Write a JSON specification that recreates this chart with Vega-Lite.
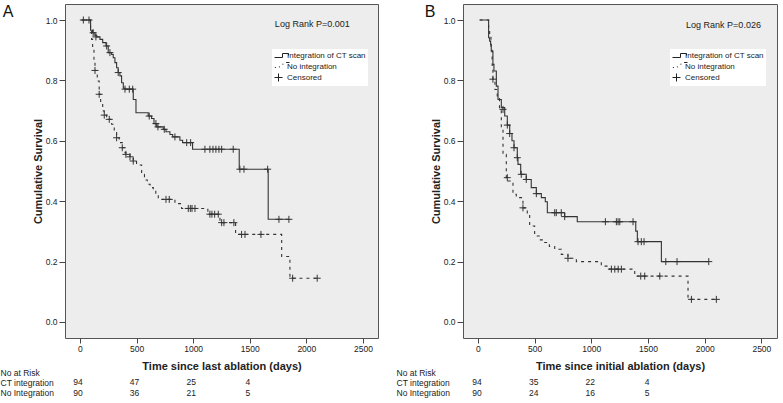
{
  "$schema": "https://vega.github.io/schema/vega-lite/v6.json",
  "padding": {"left": 0, "top": 3, "right": 0, "bottom": 3},
  "background": "white",
  "config": {
    "font": "Liberation Sans",
    "view": {"stroke": "#555", "fill": "#ededed", "strokeWidth": 1},
    "axis": {"grid": false, "domain": false, "tickColor": "#444", "labelColor": "#222", "labelFontSize": 8.5, "titleFontSize": 11, "titleFontWeight": "bold", "titleColor": "#222"},
    "legend": {"labelFont": "Liberation Sans"}
  },
  "datasets": {
    "curvesA": [
      {"group": "Integration of CT scan", "t": 15, "s": 1.0}, {"group": "Integration of CT scan", "t": 94, "s": 0.966}, {"group": "Integration of CT scan", "t": 112, "s": 0.958}, {"group": "Integration of CT scan", "t": 132, "s": 0.949}, {"group": "Integration of CT scan", "t": 148, "s": 0.944}, {"group": "Integration of CT scan", "t": 177, "s": 0.936}, {"group": "Integration of CT scan", "t": 201, "s": 0.925}, {"group": "Integration of CT scan", "t": 230, "s": 0.914}, {"group": "Integration of CT scan", "t": 250, "s": 0.892}, {"group": "Integration of CT scan", "t": 280, "s": 0.886}, {"group": "Integration of CT scan", "t": 294, "s": 0.875}, {"group": "Integration of CT scan", "t": 309, "s": 0.859}, {"group": "Integration of CT scan", "t": 324, "s": 0.842}, {"group": "Integration of CT scan", "t": 338, "s": 0.826}, {"group": "Integration of CT scan", "t": 353, "s": 0.815}, {"group": "Integration of CT scan", "t": 368, "s": 0.792}, {"group": "Integration of CT scan", "t": 383, "s": 0.774}, {"group": "Integration of CT scan", "t": 398, "s": 0.771}, {"group": "Integration of CT scan", "t": 471, "s": 0.737}, {"group": "Integration of CT scan", "t": 495, "s": 0.693}, {"group": "Integration of CT scan", "t": 603, "s": 0.682}, {"group": "Integration of CT scan", "t": 633, "s": 0.674}, {"group": "Integration of CT scan", "t": 654, "s": 0.657}, {"group": "Integration of CT scan", "t": 678, "s": 0.646}, {"group": "Integration of CT scan", "t": 736, "s": 0.638}, {"group": "Integration of CT scan", "t": 760, "s": 0.63}, {"group": "Integration of CT scan", "t": 795, "s": 0.621}, {"group": "Integration of CT scan", "t": 819, "s": 0.613}, {"group": "Integration of CT scan", "t": 883, "s": 0.602}, {"group": "Integration of CT scan", "t": 907, "s": 0.594}, {"group": "Integration of CT scan", "t": 995, "s": 0.572}, {"group": "Integration of CT scan", "t": 1407, "s": 0.506}, {"group": "Integration of CT scan", "t": 1663, "s": 0.34}, {"group": "Integration of CT scan", "t": 1849, "s": 0.34},
      {"group": "No integration", "t": 15, "s": 1.0}, {"group": "No integration", "t": 94, "s": 0.97}, {"group": "No integration", "t": 103, "s": 0.936}, {"group": "No integration", "t": 112, "s": 0.908}, {"group": "No integration", "t": 124, "s": 0.864}, {"group": "No integration", "t": 133, "s": 0.833}, {"group": "No integration", "t": 153, "s": 0.798}, {"group": "No integration", "t": 170, "s": 0.754}, {"group": "No integration", "t": 183, "s": 0.726}, {"group": "No integration", "t": 201, "s": 0.699}, {"group": "No integration", "t": 215, "s": 0.685}, {"group": "No integration", "t": 236, "s": 0.679}, {"group": "No integration", "t": 259, "s": 0.671}, {"group": "No integration", "t": 280, "s": 0.655}, {"group": "No integration", "t": 303, "s": 0.632}, {"group": "No integration", "t": 324, "s": 0.61}, {"group": "No integration", "t": 347, "s": 0.594}, {"group": "No integration", "t": 374, "s": 0.577}, {"group": "No integration", "t": 398, "s": 0.561}, {"group": "No integration", "t": 406, "s": 0.555}, {"group": "No integration", "t": 442, "s": 0.547}, {"group": "No integration", "t": 471, "s": 0.533}, {"group": "No integration", "t": 500, "s": 0.52}, {"group": "No integration", "t": 545, "s": 0.489}, {"group": "No integration", "t": 570, "s": 0.47}, {"group": "No integration", "t": 595, "s": 0.456}, {"group": "No integration", "t": 620, "s": 0.445}, {"group": "No integration", "t": 648, "s": 0.436}, {"group": "No integration", "t": 670, "s": 0.42}, {"group": "No integration", "t": 692, "s": 0.406}, {"group": "No integration", "t": 839, "s": 0.392}, {"group": "No integration", "t": 898, "s": 0.376}, {"group": "No integration", "t": 1130, "s": 0.357}, {"group": "No integration", "t": 1237, "s": 0.329}, {"group": "No integration", "t": 1375, "s": 0.29}, {"group": "No integration", "t": 1782, "s": 0.217}, {"group": "No integration", "t": 1855, "s": 0.145}, {"group": "No integration", "t": 2096, "s": 0.145}
    ],
    "censA": [
      {"t": 30, "s": 1.0}, {"t": 80, "s": 1.0}, {"t": 117, "s": 0.958}, {"t": 141, "s": 0.944}, {"t": 236, "s": 0.914}, {"t": 265, "s": 0.892}, {"t": 338, "s": 0.826}, {"t": 398, "s": 0.771}, {"t": 436, "s": 0.771}, {"t": 466, "s": 0.771}, {"t": 612, "s": 0.682}, {"t": 671, "s": 0.657}, {"t": 689, "s": 0.646}, {"t": 745, "s": 0.638}, {"t": 839, "s": 0.613}, {"t": 943, "s": 0.594}, {"t": 978, "s": 0.594}, {"t": 1104, "s": 0.572}, {"t": 1148, "s": 0.572}, {"t": 1175, "s": 0.572}, {"t": 1201, "s": 0.572}, {"t": 1228, "s": 0.572}, {"t": 1252, "s": 0.572}, {"t": 1354, "s": 0.572}, {"t": 1413, "s": 0.506}, {"t": 1449, "s": 0.506}, {"t": 1658, "s": 0.506}, {"t": 1758, "s": 0.34}, {"t": 1846, "s": 0.34},
      {"t": 133, "s": 0.833}, {"t": 170, "s": 0.754}, {"t": 215, "s": 0.685}, {"t": 259, "s": 0.671}, {"t": 324, "s": 0.61}, {"t": 374, "s": 0.577}, {"t": 406, "s": 0.555}, {"t": 442, "s": 0.547}, {"t": 471, "s": 0.533}, {"t": 760, "s": 0.406}, {"t": 789, "s": 0.406}, {"t": 957, "s": 0.376}, {"t": 975, "s": 0.376}, {"t": 990, "s": 0.376}, {"t": 1016, "s": 0.376}, {"t": 1148, "s": 0.357}, {"t": 1166, "s": 0.357}, {"t": 1190, "s": 0.357}, {"t": 1222, "s": 0.357}, {"t": 1252, "s": 0.329}, {"t": 1272, "s": 0.329}, {"t": 1360, "s": 0.329}, {"t": 1428, "s": 0.29}, {"t": 1458, "s": 0.29}, {"t": 1599, "s": 0.29}, {"t": 1879, "s": 0.145}, {"t": 2096, "s": 0.145}
    ],
    "curvesB": [
      {"group": "Integration of CT scan", "t": 15, "s": 1.0}, {"group": "Integration of CT scan", "t": 94, "s": 0.941}, {"group": "Integration of CT scan", "t": 103, "s": 0.93}, {"group": "Integration of CT scan", "t": 112, "s": 0.919}, {"group": "Integration of CT scan", "t": 117, "s": 0.897}, {"group": "Integration of CT scan", "t": 132, "s": 0.853}, {"group": "Integration of CT scan", "t": 141, "s": 0.831}, {"group": "Integration of CT scan", "t": 162, "s": 0.781}, {"group": "Integration of CT scan", "t": 177, "s": 0.737}, {"group": "Integration of CT scan", "t": 206, "s": 0.71}, {"group": "Integration of CT scan", "t": 236, "s": 0.682}, {"group": "Integration of CT scan", "t": 259, "s": 0.652}, {"group": "Integration of CT scan", "t": 280, "s": 0.624}, {"group": "Integration of CT scan", "t": 300, "s": 0.6}, {"group": "Integration of CT scan", "t": 318, "s": 0.577}, {"group": "Integration of CT scan", "t": 347, "s": 0.544}, {"group": "Integration of CT scan", "t": 353, "s": 0.522}, {"group": "Integration of CT scan", "t": 377, "s": 0.489}, {"group": "Integration of CT scan", "t": 426, "s": 0.472}, {"group": "Integration of CT scan", "t": 470, "s": 0.445}, {"group": "Integration of CT scan", "t": 515, "s": 0.425}, {"group": "Integration of CT scan", "t": 559, "s": 0.412}, {"group": "Integration of CT scan", "t": 594, "s": 0.398}, {"group": "Integration of CT scan", "t": 612, "s": 0.362}, {"group": "Integration of CT scan", "t": 765, "s": 0.349}, {"group": "Integration of CT scan", "t": 876, "s": 0.332}, {"group": "Integration of CT scan", "t": 1392, "s": 0.301}, {"group": "Integration of CT scan", "t": 1406, "s": 0.266}, {"group": "Integration of CT scan", "t": 1618, "s": 0.2}, {"group": "Integration of CT scan", "t": 2036, "s": 0.2},
      {"group": "No integration", "t": 15, "s": 1.0}, {"group": "No integration", "t": 94, "s": 0.97}, {"group": "No integration", "t": 103, "s": 0.953}, {"group": "No integration", "t": 115, "s": 0.9}, {"group": "No integration", "t": 125, "s": 0.85}, {"group": "No integration", "t": 132, "s": 0.804}, {"group": "No integration", "t": 150, "s": 0.77}, {"group": "No integration", "t": 170, "s": 0.74}, {"group": "No integration", "t": 190, "s": 0.71}, {"group": "No integration", "t": 206, "s": 0.638}, {"group": "No integration", "t": 221, "s": 0.555}, {"group": "No integration", "t": 250, "s": 0.478}, {"group": "No integration", "t": 265, "s": 0.467}, {"group": "No integration", "t": 309, "s": 0.423}, {"group": "No integration", "t": 338, "s": 0.412}, {"group": "No integration", "t": 397, "s": 0.378}, {"group": "No integration", "t": 435, "s": 0.357}, {"group": "No integration", "t": 456, "s": 0.318}, {"group": "No integration", "t": 500, "s": 0.285}, {"group": "No integration", "t": 540, "s": 0.272}, {"group": "No integration", "t": 589, "s": 0.263}, {"group": "No integration", "t": 630, "s": 0.25}, {"group": "No integration", "t": 677, "s": 0.241}, {"group": "No integration", "t": 735, "s": 0.224}, {"group": "No integration", "t": 794, "s": 0.211}, {"group": "No integration", "t": 868, "s": 0.2}, {"group": "No integration", "t": 1088, "s": 0.185}, {"group": "No integration", "t": 1160, "s": 0.175}, {"group": "No integration", "t": 1383, "s": 0.152}, {"group": "No integration", "t": 1853, "s": 0.075}, {"group": "No integration", "t": 2103, "s": 0.075}
    ],
    "censB": [
      {"t": 221, "s": 0.704}, {"t": 259, "s": 0.652}, {"t": 280, "s": 0.624}, {"t": 318, "s": 0.577}, {"t": 347, "s": 0.544}, {"t": 382, "s": 0.489}, {"t": 426, "s": 0.472}, {"t": 515, "s": 0.425}, {"t": 677, "s": 0.362}, {"t": 691, "s": 0.362}, {"t": 735, "s": 0.362}, {"t": 765, "s": 0.349}, {"t": 1124, "s": 0.332}, {"t": 1221, "s": 0.332}, {"t": 1236, "s": 0.332}, {"t": 1251, "s": 0.332}, {"t": 1368, "s": 0.332}, {"t": 1412, "s": 0.266}, {"t": 1441, "s": 0.266}, {"t": 1465, "s": 0.266}, {"t": 1657, "s": 0.2}, {"t": 1756, "s": 0.2}, {"t": 2036, "s": 0.2},
      {"t": 132, "s": 0.804}, {"t": 259, "s": 0.478}, {"t": 397, "s": 0.378}, {"t": 794, "s": 0.211}, {"t": 1177, "s": 0.175}, {"t": 1207, "s": 0.175}, {"t": 1237, "s": 0.175}, {"t": 1265, "s": 0.175}, {"t": 1436, "s": 0.152}, {"t": 1471, "s": 0.152}, {"t": 1604, "s": 0.152}, {"t": 1883, "s": 0.075}, {"t": 2103, "s": 0.075}
    ],
    "riskA": [
      {"row": "CT integration", "t": 0, "n": 94}, {"row": "CT integration", "t": 500, "n": 47}, {"row": "CT integration", "t": 1000, "n": 25}, {"row": "CT integration", "t": 1500, "n": 4},
      {"row": "No Integration", "t": 0, "n": 90}, {"row": "No Integration", "t": 500, "n": 36}, {"row": "No Integration", "t": 1000, "n": 21}, {"row": "No Integration", "t": 1500, "n": 5}
    ],
    "riskB": [
      {"row": "CT integration", "t": 0, "n": 94}, {"row": "CT integration", "t": 500, "n": 35}, {"row": "CT integration", "t": 1000, "n": 22}, {"row": "CT integration", "t": 1500, "n": 4},
      {"row": "No Integration", "t": 0, "n": 90}, {"row": "No Integration", "t": 500, "n": 24}, {"row": "No Integration", "t": 1000, "n": 16}, {"row": "No Integration", "t": 1500, "n": 5}
    ]
  },
  "spacing": 17,
  "resolve": {"scale": {"shape": "independent", "strokeDash": "independent", "x": "independent", "y": "independent"}, "legend": {"shape": "independent"}},
  "hconcat": [
    {
      "spacing": -4,
      "vconcat": [
        {
          "width": 313, "height": 334,
          "title": {"text": "A", "orient": "left", "anchor": "end", "angle": 0, "align": "right", "baseline": "top", "fontSize": 16, "fontWeight": "normal", "color": "#111", "offset": 8},
          "layer": [
            {
              "data": {"name": "curvesA"},
              "mark": {"type": "line", "interpolate": "step-after", "color": "#333", "strokeWidth": 1.1},
              "encoding": {
                "x": {"field": "t", "type": "quantitative", "scale": {"domain": [-132, 2633], "nice": false, "zero": false}, "axis": {"values": [0, 500, 1000, 1500, 2000, 2500], "format": "d", "tickSize": 5, "labelPadding": 1, "title": "Time since last ablation (days)", "titlePadding": 8}},
                "y": {"field": "s", "type": "quantitative", "scale": {"domain": [-0.053, 1.053], "nice": false, "zero": false}, "axis": {"values": [0, 0.2, 0.4, 0.6, 0.8, 1.0], "format": ".1f", "tickSize": 6, "labelPadding": 2, "title": "Cumulative Survival", "titlePadding": 2}},
                "strokeDash": {"field": "group", "type": "nominal", "scale": {"domain": ["Integration of CT scan", "No integration"], "range": [[1, 0], [3, 4]]}, "legend": null}
              }
            },
            {
              "data": {"name": "censA"},
              "mark": {"type": "point", "filled": false, "color": "#333", "strokeWidth": 1, "size": 49, "opacity": 1},
              "encoding": {
                "x": {"field": "t", "type": "quantitative"},
                "y": {"field": "s", "type": "quantitative"},
                "shape": {"datum": "Censored", "type": "nominal",
                  "scale": {"domain": ["Integration of CT scan", "No integration", "Censored"], "range": ["M-1,0.5H1V-0.5H2.5V0", "M-0.9,0.25H-0.65M0.1,0.1H0.35M1.1,-0.45V-0.7M1.9,-1H2.75", "M-1,0H1M0,-1V1"]},
                  "legend": {"orient": "none", "legendX": 207, "legendY": 45, "title": null, "fillColor": "white", "padding": 2, "symbolSize": 64, "symbolStrokeWidth": 1, "symbolStrokeColor": "#222", "symbolFillColor": "transparent", "labelFontSize": 8, "labelColor": "#222", "labelOffset": 4, "rowPadding": 0,
                    "encode": {"symbols": {"shape": {"signal": "datum.value === 'Censored' ? 'M-1,0H2.7M0.5,-0.95V0.95' : datum.value === 'No integration' ? 'M-0.9,0.25H-0.65M0.1,0.1H0.35M1.1,-0.45V-0.7M1.9,-1H2.75' : 'M-1,0.5H1V-0.5H2.5V0'"}}}}
                }
              }
            },
            {
              "data": {"values": [{"label": "Log Rank P=0.001"}]},
              "mark": {"type": "text", "fontSize": 9, "align": "left", "baseline": "middle", "color": "#222"},
              "encoding": {
                "x": {"datum": 1722, "type": "quantitative"},
                "y": {"datum": 0.987, "type": "quantitative"},
                "text": {"field": "label"}
              }
            }
          ]
        },
        {
          "width": 313, "height": 20.5,
          "view": {"stroke": null, "fill": null},
          "data": {"name": "riskA"},
          "mark": {"type": "text", "fontSize": 8.5, "align": "center", "baseline": "middle", "dx": -2, "color": "#222"},
          "encoding": {
            "x": {"field": "t", "type": "quantitative", "scale": {"domain": [-132, 2633], "nice": false, "zero": false}, "axis": null},
            "y": {"field": "row", "type": "nominal", "scale": {"type": "point", "domain": ["No at Risk", "CT integration", "No Integration"], "padding": 0}, "axis": {"title": null, "domain": false, "ticks": false, "tickSize": 0, "labelAlign": "left", "labelPadding": 65, "labelFontSize": 8.5, "labelColor": "#222"}},
            "text": {"field": "n"}
          }
        }
      ]
    },
    {
      "spacing": -4,
      "vconcat": [
        {
          "width": 314, "height": 334,
          "title": {"text": "B", "orient": "left", "anchor": "end", "angle": 0, "align": "right", "baseline": "top", "fontSize": 16, "fontWeight": "normal", "color": "#111", "offset": -16},
          "layer": [
            {
              "data": {"name": "curvesB"},
              "mark": {"type": "line", "interpolate": "step-after", "color": "#333", "strokeWidth": 1.1},
              "encoding": {
                "x": {"field": "t", "type": "quantitative", "scale": {"domain": [-132, 2638], "nice": false, "zero": false}, "axis": {"values": [0, 500, 1000, 1500, 2000, 2500], "format": "d", "tickSize": 5, "labelPadding": 1, "title": "Time since initial ablation (days)", "titlePadding": 8}},
                "y": {"field": "s", "type": "quantitative", "scale": {"domain": [-0.053, 1.053], "nice": false, "zero": false}, "axis": {"values": [0, 0.2, 0.4, 0.6, 0.8, 1.0], "format": ".1f", "tickSize": 6, "labelPadding": 2, "title": "Cumulative Survival", "titlePadding": 2}},
                "strokeDash": {"field": "group", "type": "nominal", "scale": {"domain": ["Integration of CT scan", "No integration"], "range": [[1, 0], [3, 4]]}, "legend": null}
              }
            },
            {
              "data": {"name": "censB"},
              "mark": {"type": "point", "filled": false, "color": "#333", "strokeWidth": 1, "size": 49, "opacity": 1},
              "encoding": {
                "x": {"field": "t", "type": "quantitative"},
                "y": {"field": "s", "type": "quantitative"},
                "shape": {"datum": "Censored", "type": "nominal",
                  "scale": {"domain": ["Integration of CT scan", "No integration", "Censored"], "range": ["M-1,0.5H1V-0.5H2.5V0", "M-0.9,0.25H-0.65M0.1,0.1H0.35M1.1,-0.45V-0.7M1.9,-1H2.75", "M-1,0H1M0,-1V1"]},
                  "legend": {"orient": "none", "legendX": 207, "legendY": 45, "title": null, "fillColor": "white", "padding": 2, "symbolSize": 64, "symbolStrokeWidth": 1, "symbolStrokeColor": "#222", "symbolFillColor": "transparent", "labelFontSize": 8, "labelColor": "#222", "labelOffset": 4, "rowPadding": 0,
                    "encode": {"symbols": {"shape": {"signal": "datum.value === 'Censored' ? 'M-1,0H2.7M0.5,-0.95V0.95' : datum.value === 'No integration' ? 'M-0.9,0.25H-0.65M0.1,0.1H0.35M1.1,-0.45V-0.7M1.9,-1H2.75' : 'M-1,0.5H1V-0.5H2.5V0'"}}}}
                }
              }
            },
            {
              "data": {"values": [{"label": "Log Rank P=0.026"}]},
              "mark": {"type": "text", "fontSize": 9, "align": "left", "baseline": "middle", "color": "#222"},
              "encoding": {
                "x": {"datum": 1836, "type": "quantitative"},
                "y": {"datum": 0.983, "type": "quantitative"},
                "text": {"field": "label"}
              }
            }
          ]
        },
        {
          "width": 314, "height": 20.5,
          "view": {"stroke": null, "fill": null},
          "data": {"name": "riskB"},
          "mark": {"type": "text", "fontSize": 8.5, "align": "center", "baseline": "middle", "dx": -1, "color": "#222"},
          "encoding": {
            "x": {"field": "t", "type": "quantitative", "scale": {"domain": [-132, 2638], "nice": false, "zero": false}, "axis": null},
            "y": {"field": "row", "type": "nominal", "scale": {"type": "point", "domain": ["No at Risk", "CT integration", "No Integration"], "padding": 0}, "axis": {"title": null, "domain": false, "ticks": false, "tickSize": 0, "labelAlign": "left", "labelPadding": 67, "labelFontSize": 8.5, "labelColor": "#222"}},
            "text": {"field": "n"}
          }
        }
      ]
    }
  ]
}
